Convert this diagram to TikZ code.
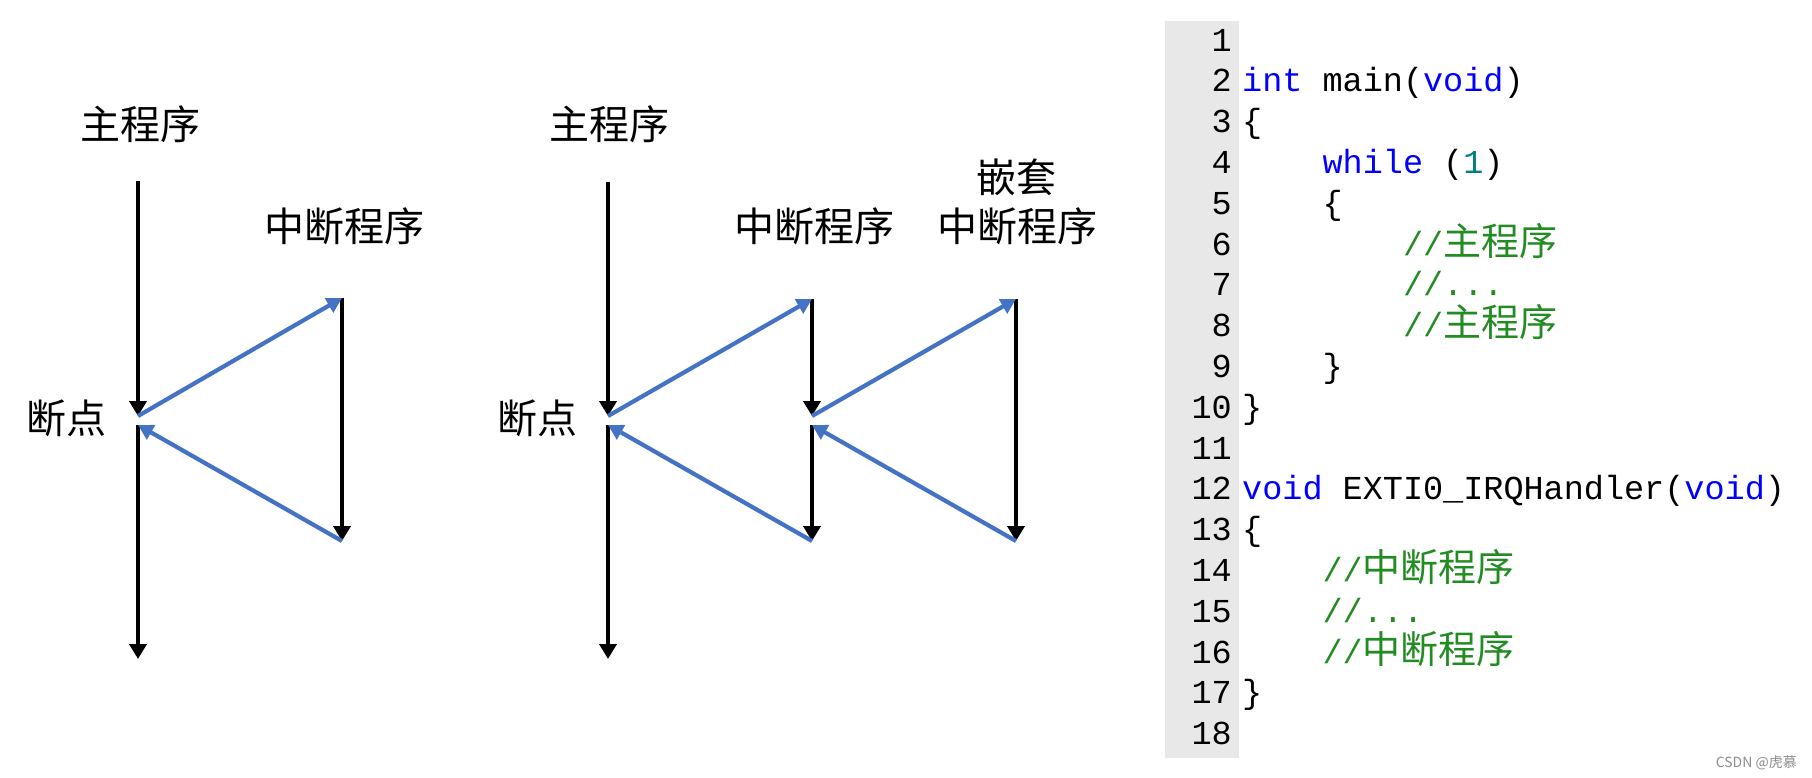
\documentclass[tikz,border=0pt]{standalone}
\usepackage{fontspec}
\usepackage{tikz}
\usetikzlibrary{arrows.meta}
\newfontfamily\cjk{Noto Sans CJK SC}
\newfontfamily\codefont{Liberation Mono}
\definecolor{flowblue}{RGB}{68,114,196}
\definecolor{gutgray}{RGB}{232,232,232}
\definecolor{kwblue}{RGB}{0,0,255}
\definecolor{numteal}{RGB}{0,128,128}
\definecolor{cmtgreen}{RGB}{34,139,34}
\newcommand{\kw}[1]{\textcolor{kwblue}{#1}}
\newcommand{\cmt}[1]{\textcolor{cmtgreen}{#1}}
\newcommand{\cn}[1]{{\cjk\fontsize{38}{40}\selectfont #1}}

\begin{document}
\begin{tikzpicture}[x=1pt,y=-1pt]
                \tikzstyle{every node}+=[inner sep=0pt]
                \tikzstyle{flowtext}=[font=\cjk\fontsize{40}{48}\selectfont]
                \tikzstyle{codeline}=[anchor=mid west, font=\codefont\fontsize{33.5}{40}\selectfont]
                \tikzstyle{lineno}=[anchor=mid east, font=\codefont\fontsize{33.5}{40}\selectfont]
                \tikzstyle{flow}=[black, line width=4.6pt, -{Triangle[width=17pt,length=15pt]}]
                \tikzstyle{jump}=[flowblue, line width=4.2pt, -{Triangle[width=16pt,length=15pt]}]
                \useasboundingbox (0,0) rectangle (1812,778);
                % one interrupt
                \coordinate (atop) at (138,181);
                \coordinate (abrk) at (138,416);
                \coordinate (ares) at (138,425);
                \coordinate (abot) at (138,659);
                \coordinate (aisrtop) at (342,298);
                \coordinate (aisrbot) at (342,541);
                \node [flowtext] (amain) at (140,124) {主程序};
                \node [flowtext] (abp) at (67,418) {断点};
                \node [flowtext] (aisr) at (344,226) {中断程序};
                \draw [flow] (atop) -- (abrk);
                \draw [flow] (ares) -- (abot);
                \draw [flow] (aisrtop) -- (aisrbot);
                \draw [jump] (abrk) -- (aisrtop);
                \draw [jump] (aisrbot) -- (ares);
                % nested interrupt
                \coordinate (btop) at (608,182);
                \coordinate (bbrk) at (608,416);
                \coordinate (bres) at (608,425);
                \coordinate (bbot) at (608,659);
                \coordinate (bisrtop) at (812,299);
                \coordinate (bisrbrk) at (812,416);
                \coordinate (bisrres) at (812,425);
                \coordinate (bisrbot) at (812,541);
                \coordinate (bnesttop) at (1016,299);
                \coordinate (bnestbot) at (1016,541);
                \node [flowtext] (bmain) at (609,124) {主程序};
                \node [flowtext] (bbp) at (537,418) {断点};
                \node [flowtext] (bisr) at (814,226) {中断程序};
                \node [flowtext] (bnest) at (1016,177) {嵌套};
                \node [flowtext] (bnestisr) at (1017,226) {中断程序};
                \draw [flow] (btop) -- (bbrk);
                \draw [flow] (bres) -- (bbot);
                \draw [flow] (bisrtop) -- (bisrbrk);
                \draw [flow] (bisrres) -- (bisrbot);
                \draw [flow] (bnesttop) -- (bnestbot);
                \draw [jump] (bbrk) -- (bisrtop);
                \draw [jump] (bisrbot) -- (bres);
                \draw [jump] (bisrbrk) -- (bnesttop);
                \draw [jump] (bnestbot) -- (bisrres);
                % code listing
                \fill [gutgray] (1165,21) rectangle (1239,758);
                \node [lineno] (n1) at (1232,49) {1};
                \node [lineno] (n2) at (1232,89.8) {2};
                \node [lineno] (n3) at (1232,130.6) {3};
                \node [lineno] (n4) at (1232,171.4) {4};
                \node [lineno] (n5) at (1232,212.2) {5};
                \node [lineno] (n6) at (1232,253) {6};
                \node [lineno] (n7) at (1232,293.8) {7};
                \node [lineno] (n8) at (1232,334.6) {8};
                \node [lineno] (n9) at (1232,375.4) {9};
                \node [lineno] (n10) at (1232,416.2) {10};
                \node [lineno] (n11) at (1232,457) {11};
                \node [lineno] (n12) at (1232,497.8) {12};
                \node [lineno] (n13) at (1232,538.6) {13};
                \node [lineno] (n14) at (1232,579.4) {14};
                \node [lineno] (n15) at (1232,620.2) {15};
                \node [lineno] (n16) at (1232,661) {16};
                \node [lineno] (n17) at (1232,701.8) {17};
                \node [lineno] (n18) at (1232,742.6) {18};
                \node [codeline] (c2) at (1242,89.8) {\kw{int} main(\kw{void})};
                \node [codeline] (c3) at (1242,130.6) {\{};
                \node [codeline] (c4) at (1322.4,171.4) {\kw{while} (\textcolor{numteal}{1})};
                \node [codeline] (c5) at (1322.4,212.2) {\{};
                \node [codeline] (c6) at (1402.8,253) {\cmt{//\cn{主程序}}};
                \node [codeline] (c7) at (1402.8,293.8) {\cmt{//...}};
                \node [codeline] (c8) at (1402.8,334.6) {\cmt{//\cn{主程序}}};
                \node [codeline] (c9) at (1322.4,375.4) {\}};
                \node [codeline] (c10) at (1242,416.2) {\}};
                \node [codeline] (c12) at (1242,497.8) {\kw{void} EXTI0\_IRQHandler(\kw{void})};
                \node [codeline] (c13) at (1242,538.6) {\{};
                \node [codeline] (c14) at (1322.4,579.4) {\cmt{//\cn{中断程序}}};
                \node [codeline] (c15) at (1322.4,620.2) {\cmt{//...}};
                \node [codeline] (c16) at (1322.4,661) {\cmt{//\cn{中断程序}}};
                \node [codeline] (c17) at (1242,701.8) {\}};
                \node [anchor=east, font=\cjk\fontsize{14}{16}\selectfont, text=black!45] (mark) at (1797,763) {CSDN @虎慕};
\end{tikzpicture}
\end{document}
